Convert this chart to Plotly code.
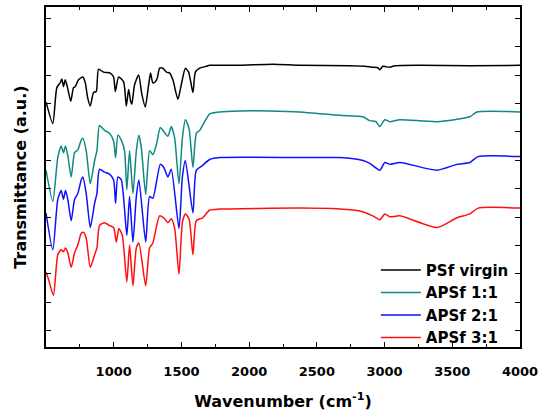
import plotly.graph_objects as go

# FTIR spectra (wavenumber in cm-1, transmittance in a.u.)
psf_wn = [501, 550, 580, 605, 617, 629, 642, 659, 683, 703, 716, 740, 772, 790, 807, 827,
          851, 871, 888, 925, 975, 999, 1012, 1036, 1073, 1093, 1110, 1125, 1134, 1154, 1184,
          1208, 1233, 1258, 1272, 1289, 1307, 1322, 1339, 1363, 1389, 1413, 1437, 1474, 1499,
          1529, 1553, 1585, 1603, 1635, 1684, 1709, 1930, 2174, 2374, 2743, 2854, 2906, 2950,
          2965, 2987, 3010, 3039, 3076, 3261, 3630, 4000]
psf_t = [252, 230, 267, 272, 276, 268, 275, 267, 253, 267, 268, 275, 278, 272, 257, 248,
         262, 263, 286, 283, 282, 278, 263, 278, 273, 248, 265, 253, 250, 270, 280,
         260, 247, 270, 282, 272, 273, 277, 287, 287, 283, 282, 275, 255, 270,
         287, 283, 262, 283, 287, 289, 290, 290, 291, 290, 289.5, 289, 288, 287.5,
         285.5, 289, 288.5, 288, 289.5, 290, 289.5, 290]

apsf11_wn = [500, 550, 587, 612, 629, 644, 661, 686, 711, 735, 760, 772, 797, 827, 859, 876,
             895, 932, 969, 999, 1014, 1031, 1056, 1080, 1097, 1117, 1142, 1167, 1186, 1204,
             1236, 1265, 1289, 1315, 1344, 1369, 1400, 1425, 1450, 1482, 1507, 1529, 1556,
             1585, 1610, 1635, 1672, 1709, 1783, 1930, 2152, 2374, 2670, 2840, 2891, 2936,
             2965, 3002, 3039, 3113, 3387, 3630, 3682, 4000]
apsf11_t = [182, 150, 195, 207, 200, 207, 197, 175, 200, 203, 213, 215, 202, 168, 192, 202,
            228, 223, 220, 212, 195, 218, 213, 202, 162, 202, 158, 202, 218, 205,
            157, 202, 198, 208, 226, 222, 217, 227, 215, 168, 215, 234, 225,
            185, 220, 223, 232, 240, 242, 243, 243, 242, 238.5, 237, 233, 232,
            227, 234, 232, 234, 232, 237, 242, 242]

apsf21_wn = [500, 550, 587, 612, 629, 644, 661, 686, 711, 735, 760, 772, 797, 827, 859, 876,
             895, 932, 969, 999, 1014, 1031, 1056, 1097, 1117, 1142, 1167, 1186, 1236, 1265,
             1289, 1344, 1369, 1400, 1425, 1482, 1507, 1529, 1585, 1610, 1657, 1709, 1783,
             2374, 2670, 2840, 2891, 2965, 3002, 3039, 3113, 3387, 3534, 3630, 3690, 4000]
apsf21_t = [138, 100, 152, 161, 152, 161, 152, 130, 152, 158, 172, 175, 158, 123, 148, 158,
            183, 180, 178, 172, 148, 175, 172, 115, 155, 108, 155, 172, 108, 155,
            153, 188, 185, 175, 183, 122, 175, 192, 138, 182, 187, 193, 195,
            195, 195, 192, 189, 182, 190, 188, 190, 182, 188, 190, 196, 196]

apsf31_wn = [500, 518, 555, 587, 612, 629, 644, 661, 686, 711, 735, 760, 777, 797, 827, 859,
             876, 895, 932, 969, 999, 1019, 1038, 1063, 1097, 1117, 1142, 1167, 1186, 1236,
             1265, 1289, 1339, 1376, 1400, 1425, 1450, 1482, 1507, 1529, 1556, 1585, 1610,
             1657, 1709, 1783, 2374, 2670, 2817, 2913, 2965, 3002, 3039, 3113, 3387, 3534,
             3630, 3690, 4000]
apsf31_t = [77, 70, 53, 95, 100, 98, 102, 97, 82, 97, 105, 117, 118, 112, 82, 95,
            102, 125, 128, 125, 123, 108, 122, 115, 67, 105, 63, 102, 107, 63,
            102, 107, 135, 132, 128, 132, 122, 75, 128, 137, 132, 95, 130,
            133, 141, 142, 143, 142, 140, 135, 131, 137, 134, 135, 123, 133,
            137, 143, 143]

series = [
    ("PSf virgin", psf_wn, psf_t, "#000000"),
    ("APSf 1:1", apsf11_wn, apsf11_t, "#0e8a80"),
    ("APSf 2:1", apsf21_wn, apsf21_t, "#1010ff"),
    ("APSf 3:1", apsf31_wn, apsf31_t, "#ff1010"),
]

bold = dict(family="DejaVu Sans", color="black", weight="bold")

fig = go.Figure()
for name, wn, t, color in series:
    fig.add_trace(go.Scatter(x=wn, y=t, name=name, mode="lines",
                             line=dict(color=color, width=1.5, shape="spline", smoothing=0.6)))

fig.update_layout(
    width=548, height=413,
    margin=dict(l=46, r=28, t=5, b=58),
    plot_bgcolor="white", paper_bgcolor="white",
    showlegend=True,
    legend=dict(x=0.987, xanchor="right", y=-0.02, yanchor="bottom",
                bgcolor="rgba(0,0,0,0)", font=dict(size=15, **bold),
                tracegroupgap=0, itemwidth=40),
)
fig.update_xaxes(
    range=[500, 4000], tickvals=[1000, 1500, 2000, 2500, 3000, 3500, 4000],
    ticks="inside", ticklen=5, tickcolor="black",
    minor=dict(dtick=250, tick0=0, ticks="inside", ticklen=3, tickcolor="black"),
    showline=True, linecolor="black", linewidth=1.5, mirror="ticks",
    showgrid=False, zeroline=False,
    tickfont=dict(size=13, **bold), ticklabelstandoff=12,
    title=dict(text="Wavenumber (cm<sup>-1</sup>)", font=dict(size=16, **bold), standoff=17),
)
fig.update_yaxes(
    range=[0, 350], tick0=17, dtick=29.2, showticklabels=False,
    ticks="inside", ticklen=5, tickcolor="black",
    showline=True, linecolor="black", linewidth=1.5, mirror="ticks",
    showgrid=False, zeroline=False,
    title=dict(text="Transmittance (a.u.)", font=dict(size=16, **bold), standoff=14),
)

fig.write_html("out.html", config={"displayModeBar": False},
               post_script="document.body.style.margin='0';")
